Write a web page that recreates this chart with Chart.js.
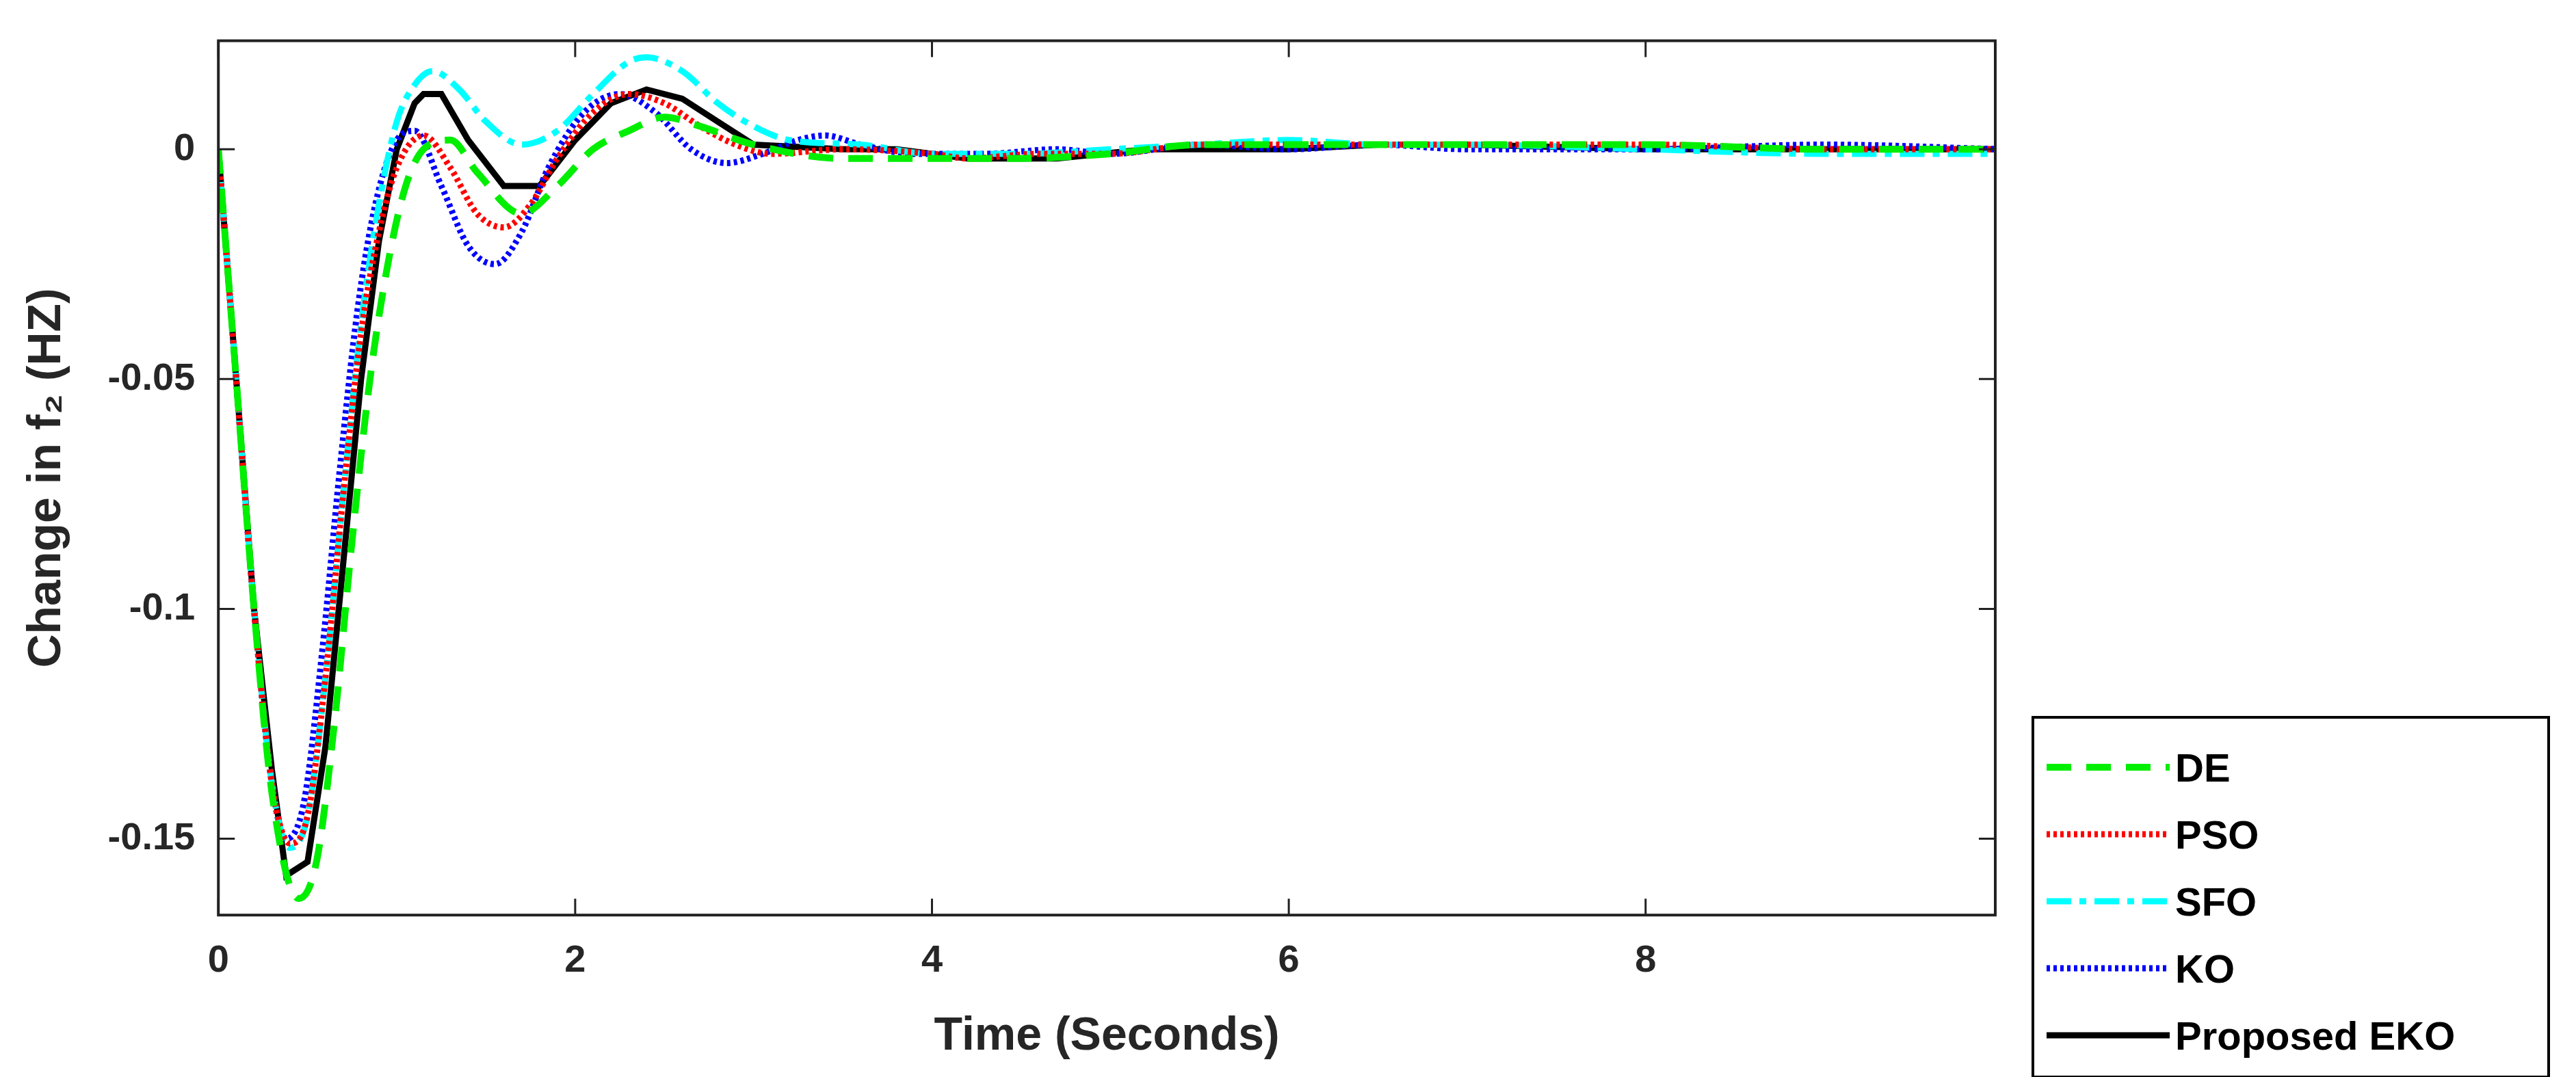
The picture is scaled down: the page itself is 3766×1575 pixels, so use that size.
<!DOCTYPE html>
<html><head><meta charset="utf-8">
<script src="https://cdn.jsdelivr.net/npm/chart.js@4/dist/chart.umd.min.js"></script>
<style>
html,body{margin:0;padding:0;background:#fff;}
#wrap{position:relative;width:3766px;height:1575px;}
#legend{position:absolute;left:2970px;top:1047px;width:758px;height:530px;border:4px solid #000;box-sizing:border-box;background:#fff;font:bold 58px "Liberation Sans",Arial,sans-serif;padding:22px 0 0 18px;}
.row{display:flex;align-items:center;height:98px;}
.row svg{margin-right:8px;}
</style></head><body>
<div id="wrap"><canvas id="c" width="3766" height="1575"></canvas>
<div id="legend"></div></div>
<script>
const seriesNames=["DE","PSO","SFO","KO","Proposed EKO"];
const deData=[[0,0],[0.1,-0.05],[0.2,-0.1],[0.3,-0.14],[0.45,-0.163],[0.55,-0.155],[0.65,-0.125],[0.75,-0.085],[0.85,-0.05],[0.95,-0.025],[1.05,-0.008],[1.15,0.0],[1.3,0.002],[1.45,-0.005],[1.7,-0.014],[1.9,-0.008],[2.1,0.0],[2.3,0.004],[2.5,0.007],[2.7,0.005],[3.0,0.001],[3.5,-0.002],[4,-0.002],[4.5,-0.002],[5,-0.001],[5.5,0.001],[6,0.001],[7,0.001],[8,0.001],[9,0.0],[10,0]];
const psoData=[[0,0],[0.1,-0.05],[0.2,-0.1],[0.3,-0.138],[0.4,-0.151],[0.5,-0.145],[0.6,-0.115],[0.7,-0.075],[0.8,-0.04],[0.9,-0.018],[1.0,-0.004],[1.15,0.003],[1.3,-0.004],[1.45,-0.014],[1.6,-0.017],[1.75,-0.012],[1.9,-0.002],[2.1,0.008],[2.3,0.012],[2.5,0.01],[2.7,0.005],[2.9,0.001],[3.1,-0.001],[3.5,0.0],[4,-0.001],[4.2,-0.002],[4.6,-0.001],[5,-0.001],[5.5,0.001],[6,0.001],[7,0.001],[8,0.001],[9,0.0],[10,0]];
const sfoData=[[0,0],[0.1,-0.05],[0.2,-0.1],[0.3,-0.138],[0.4,-0.152],[0.5,-0.145],[0.6,-0.115],[0.7,-0.075],[0.8,-0.038],[0.9,-0.012],[1.0,0.006],[1.1,0.014],[1.2,0.017],[1.35,0.013],[1.5,0.006],[1.7,0.001],[1.9,0.004],[2.1,0.012],[2.3,0.019],[2.4,0.02],[2.6,0.017],[2.8,0.01],[3.0,0.005],[3.2,0.002],[3.6,0.001],[4,-0.001],[4.5,-0.001],[5,0.0],[5.5,0.001],[6,0.002],[6.5,0.001],[7,0.001],[8,0.0],[9,-0.001],[10,-0.001]];
const koData=[[0,0],[0.1,-0.05],[0.2,-0.1],[0.3,-0.138],[0.38,-0.15],[0.48,-0.142],[0.58,-0.11],[0.68,-0.07],[0.78,-0.035],[0.88,-0.012],[1.0,0.002],[1.1,0.004],[1.25,-0.008],[1.4,-0.021],[1.55,-0.025],[1.7,-0.018],[1.85,-0.004],[2.05,0.008],[2.25,0.012],[2.45,0.008],[2.65,0.0],[2.85,-0.003],[3.05,-0.001],[3.25,0.002],[3.4,0.003],[3.6,0.001],[3.9,-0.001],[4.3,-0.001],[4.7,0.0],[5,-0.001],[5.5,0.001],[6,0.0],[6.5,0.001],[7,0.0],[8,0.0],[9,0.001],[10,0]];
const ekoData=[[0,0],[0.1,-0.05],[0.2,-0.1],[0.3,-0.135],[0.38,-0.158],[0.5,-0.155],[0.6,-0.13],[0.7,-0.09],[0.8,-0.05],[0.9,-0.02],[1.0,0.0],[1.1,0.01],[1.15,0.012],[1.25,0.012],[1.4,0.002],[1.6,-0.008],[1.8,-0.008],[2.0,0.002],[2.2,0.01],[2.4,0.013],[2.6,0.011],[2.8,0.006],[3.0,0.001],[3.5,0],[3.8,0],[4.2,-0.002],[4.7,-0.002],[5.2,0],[6,0],[6.5,0.001],[7,0.001],[8,0],[9,0],[10,0]];
const xTicks=[0,2,4,6,8];
const yTicks=[0,-0.05,-0.1,-0.15];
const styles=[
 {c:"#00ee00",d:[36,22],w:10,m:'monotone'},
 {c:"#ff0000",d:[5,5],w:9,m:'monotone'},
 {c:"#00ffff",d:[36,12,10,12],w:9,m:'monotone'},
 {c:"#0000ff",d:[5,5],w:9,m:'monotone'},
 {c:"#000000",d:[],w:9,m:'default'}];
const all=[deData,psoData,sfoData,koData,ekoData];
const toXY=a=>a.map(p=>({x:p[0],y:p[1]}));
const F='"Liberation Sans", Arial, sans-serif';
const boxPlugin={id:'box',afterDraw(ch){const a=ch.chartArea,x=ch.ctx;x.save();x.strokeStyle='#222';x.lineWidth=4;x.strokeRect(a.left,a.top,a.right-a.left,a.bottom-a.top);
 x.lineWidth=3;const xs=ch.scales.x,ys=ch.scales.y;
 xTicks.forEach(v=>{const p=xs.getPixelForValue(v);x.beginPath();x.moveTo(p,a.bottom);x.lineTo(p,a.bottom-24);x.moveTo(p,a.top);x.lineTo(p,a.top+24);x.stroke();});
 yTicks.forEach(v=>{const p=ys.getPixelForValue(v);x.beginPath();x.moveTo(a.left,p);x.lineTo(a.left+24,p);x.moveTo(a.right,p);x.lineTo(a.right-24,p);x.stroke();});
 x.restore();}};
new Chart(document.getElementById('c'),{type:'line',
 data:{datasets:all.map((d,i)=>({label:seriesNames[i],data:toXY(d),borderColor:styles[i].c,borderDash:styles[i].d,borderWidth:styles[i].w,tension:0,cubicInterpolationMode:styles[i].m,pointRadius:0,fill:false}))},
 options:{responsive:false,animation:false,
  layout:{padding:{left:24,top:29,right:849,bottom:14}},
  plugins:{legend:{display:false},tooltip:{enabled:false}},
  scales:{
   x:{type:'linear',min:0,max:9.96,afterBuildTicks(s){s.ticks=xTicks.map(v=>({value:v}));},
    grid:{display:false},border:{display:false},
    ticks:{color:'#262626',font:{family:F,size:56,weight:'bold'},padding:26,maxRotation:0},
    title:{display:true,text:'Time (Seconds)',color:'#262626',font:{family:F,size:68,weight:'bold'},padding:{top:10}}},
   y:{type:'linear',min:-0.1666,max:0.0236,afterBuildTicks(s){s.ticks=yTicks.map(v=>({value:v}));},
    grid:{display:false},border:{display:false},
    ticks:{color:'#262626',font:{family:F,size:56,weight:'bold'},padding:26,callback:v=>String(v)},
    title:{display:true,text:'Change in f\u2082 (HZ)',color:'#262626',font:{family:F,size:68,weight:'bold'},padding:{bottom:22}}}
  }},
 plugins:[boxPlugin]});
const lg=document.getElementById('legend');
seriesNames.forEach((n,i)=>{const s=styles[i];lg.insertAdjacentHTML('beforeend',
 `<div class="row"><svg width="180" height="20"><line x1="0" y1="10" x2="180" y2="10" stroke="${s.c}" stroke-width="${s.w}" stroke-dasharray="${s.d.join(' ')}"/></svg><span>${n}</span></div>`);});
</script></body></html>
